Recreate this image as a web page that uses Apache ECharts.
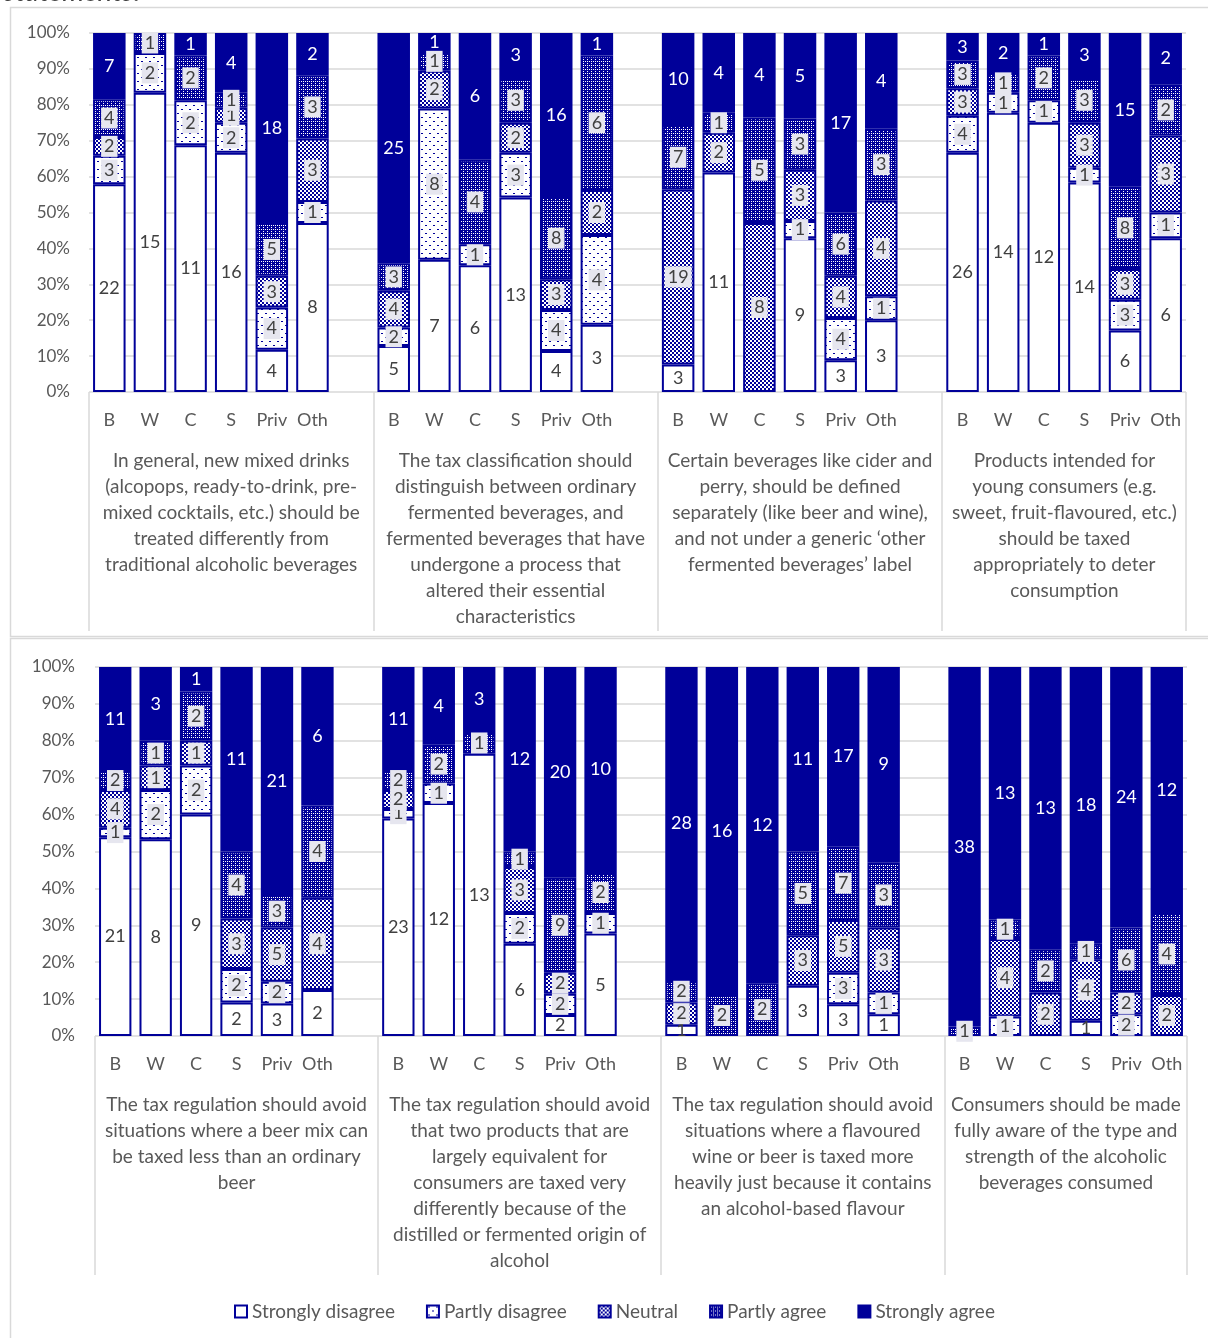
<!DOCTYPE html>
<html><head><meta charset="utf-8">
<script src="https://cdn.jsdelivr.net/npm/echarts@6/dist/echarts.min.js"></script>
<style>html,body{margin:0;padding:0;background:#fff;overflow:hidden}#c{width:1208px;height:1338px}</style>
</head><body><div id="c"></div><script>
// ---------- DATA ----------
const barLabels = ['B', 'W', 'C', 'S', 'Priv', 'Oth'];
const responses = ['Strongly disagree', 'Partly disagree', 'Neutral', 'Partly agree', 'Strongly agree'];
const topGroups = [
  'In general, new mixed drinks\n(alcopops, ready-to-drink, pre-\nmixed cocktails, etc.) should be\ntreated differently from\ntraditional alcoholic beverages',
  'The tax classification should\ndistinguish between ordinary\nfermented beverages, and\nfermented beverages that have\nundergone a process that\naltered their essential\ncharacteristics',
  'Certain beverages like cider and\nperry, should be defined\nseparately (like beer and wine),\nand not under a generic \u2018other\nfermented beverages\u2019 label',
  'Products intended for\nyoung consumers (e.g.\nsweet, fruit-flavoured, etc.)\nshould be taxed\nappropriately to deter\nconsumption'
];
const bottomGroups = [
  'The tax regulation should avoid\nsituations where a beer mix can\nbe taxed less than an ordinary\nbeer',
  'The tax regulation should avoid\nthat two products that are\nlargely equivalent for\nconsumers are taxed very\ndifferently because of the\ndistilled or fermented origin of\nalcohol',
  'The tax regulation should avoid\nsituations where a flavoured\nwine or beer is taxed more\nheavily just because it contains\nan alcohol-based flavour',
  'Consumers should be made\nfully aware of the type and\nstrength of the alcoholic\nbeverages consumed'
];
// counts, 4 groups x 6 bars (B, W, C, S, Priv, Oth)
const topStronglyDisagree = [22,15,11,16,4,8,  5,7,6,13,4,3,  3,11,0,9,3,3,  26,14,12,14,6,6];
const topPartlyDisagree   = [3,2,2,2,4,1,      2,8,1,3,4,4,   0,0,0,1,4,1,   4,1,1,1,3,1];
const topNeutral          = [2,0,0,1,3,3,      4,2,0,2,3,2,   19,2,8,3,4,4,  3,0,0,3,3,3];
const topPartlyAgree      = [4,1,2,1,5,3,      3,1,4,3,8,6,   7,1,5,3,6,3,   3,1,2,3,8,2];
const topStronglyAgree    = [7,0,1,4,18,2,     25,1,6,3,16,1, 10,4,4,5,17,4, 3,2,1,3,15,2];

const botStronglyDisagree = [21,8,9,2,3,2,  23,12,13,6,2,5,  1,0,0,3,3,1,     0,0,0,1,0,0];
const botPartlyDisagree   = [1,2,2,2,2,0,   1,1,0,2,2,1,     0,0,0,0,3,1,     0,1,0,0,2,0];
const botNeutral          = [4,1,1,3,5,4,   2,0,0,3,2,0,     2,0,0,3,5,3,     0,4,2,4,2,2];
const botPartlyAgree      = [2,1,2,4,3,4,   2,2,1,1,9,2,     2,2,2,5,7,3,     1,1,2,1,6,4];
const botStronglyAgree    = [11,3,1,11,21,6, 11,4,3,12,20,10, 28,16,12,11,17,9, 38,13,13,18,24,12];

const yTickStep = 10;

// ---------- STYLE ----------
const NAVY = '#000099';
const FONT = 'Lato, "Open Sans", sans-serif';
const GREY = '#595959';
function tile(w, h, draw) {
  const c = document.createElement('canvas'); c.width = w; c.height = h;
  const x = c.getContext('2d'); draw(x); return c;
}
const pdTile = tile(8, 8, x => { x.fillStyle = '#fff'; x.fillRect(0,0,8,8); x.fillStyle = NAVY; x.fillRect(1,1,2,1); x.fillRect(5,5,2,1); });
const nTile  = tile(4, 4, x => { x.fillStyle = '#fff'; x.fillRect(0,0,4,4); x.fillStyle = NAVY; x.fillRect(0,0,2,2); x.fillRect(2,2,2,2); });
const paTile = tile(4, 4, x => { x.fillStyle = NAVY; x.fillRect(0,0,4,4); x.fillStyle = '#fff'; x.fillRect(1,1,1,1); x.fillRect(3,3,1,1); x.fillRect(3,1,1,1); });
const fills = ['#ffffff', {image: pdTile, repeat: 'repeat'}, {image: nTile, repeat: 'repeat'}, {image: paTile, repeat: 'repeat'}, NAVY];

const lblBase = {show: true, position: 'inside', fontFamily: FONT, fontSize: 18, color: '#404040',
  formatter: p => (p.data && p.data.count) ? String(p.data.count) : ''};
const boxLbl = {backgroundColor: '#e6e6ef', padding: [2, 3, 1, 3]};
const labels = [
  Object.assign({}, lblBase),
  Object.assign({}, lblBase, boxLbl),
  Object.assign({}, lblBase, boxLbl),
  Object.assign({}, lblBase, boxLbl),
  Object.assign({}, lblBase, {color: '#ffffff'})
];

// ---------- BUILD ----------
// 27 slots: 6 bars per group, a blank slot between groups
const slotIdx = [];
const firstLevel = [];
for (let g = 0; g < 4; g++) {
  for (let b = 0; b < 6; b++) { slotIdx.push(g * 6 + b); firstLevel.push(barLabels[b]); }
  if (g < 3) { slotIdx.push(-1); firstLevel.push(''); }
}
const groupCenterSlot = [3, 10, 17, 24];
function secondLevel(groups) {
  return slotIdx.map((s, i) => {
    const g = groupCenterSlot.indexOf(i);
    if (g < 0) return '';
    return g === 3 ? '{g4|' + groups[g] + '}' : groups[g];
  });
}

function panelSeries(arrs, p) {
  const totals = arrs[0].map((_, i) => arrs.reduce((s, a) => s + a[i], 0));
  return arrs.map((arr, r) => ({
    type: 'bar', name: responses[r], stack: 'p' + p,
    xAxisIndex: p * 2, yAxisIndex: p,
    barCategoryGap: '20%',
    itemStyle: {color: fills[r], borderColor: NAVY, borderWidth: 2},
    label: labels[r],
    emphasis: {disabled: true},
    data: slotIdx.map(s => {
      if (s < 0 || arr[s] === 0) return '-';
      return {value: arr[s] / totals[s] * 100, count: arr[s]};
    })
  }));
}

function firstAxis(grid) {
  return {type: 'category', gridIndex: grid, data: firstLevel, position: 'bottom',
    axisLine: {show: false}, axisTick: {show: false},
    axisLabel: {interval: 0, margin: 18, fontFamily: FONT, fontSize: 18, color: GREY, lineHeight: 20}};
}
function secondAxis(grid, groups) {
  return {type: 'category', gridIndex: grid, data: secondLevel(groups), position: 'bottom',
    axisLine: {show: false},
    axisTick: {show: true, interval: i => i === 0 || i === 7 || i === 14 || i === 21, length: 239,
      lineStyle: {color: '#d9d9d9', width: 1.5}},
    axisLabel: {interval: 0, margin: 56, fontFamily: FONT, fontSize: 19, color: GREY, lineHeight: 26,
      align: 'center', verticalAlign: 'top', hideOverlap: false,
      rich: {g4: {fontFamily: FONT, fontSize: 19, color: GREY, lineHeight: 26, padding: [0, 40, 0, 0]}}}};
}
function yAx(grid, margin) {
  return {type: 'value', gridIndex: grid, min: 0, max: 100, interval: yTickStep,
    axisLine: {show: false}, axisTick: {show: false},
    splitLine: {lineStyle: {color: '#d9d9d9', width: 1.5}},
    axisLabel: {formatter: '{value}%', fontFamily: FONT, fontSize: 17, color: GREY, margin: margin}};
}

const option = {
  animation: false,
  backgroundColor: '#ffffff',
  grid: [
    {left: 89, top: 33, width: 1097, height: 359, containLabel: false, outerBoundsMode: 'none'},
    {left: 95, top: 667, width: 1092, height: 369, containLabel: false, outerBoundsMode: 'none'}
  ],
  xAxis: [firstAxis(0), secondAxis(0, topGroups), firstAxis(1), secondAxis(1, bottomGroups)],
  yAxis: [yAx(0, 19), yAx(1, 20)],
  legend: {
    data: responses, left: 229, top: 1297, itemWidth: 12, itemHeight: 12, itemGap: 31, itemTextGap: 4,
    icon: 'rect', textStyle: {fontFamily: FONT, fontSize: 19, color: GREY},
    itemStyle: {borderWidth: 2, borderColor: NAVY}
  },
  graphic: [
    {type: 'rect', shape: {x: 10.5, y: 7.5, width: 1210, height: 629}, style: {fill: 'none', stroke: '#d9d9d9', lineWidth: 1.5}, silent: true},
    {type: 'rect', shape: {x: 10.5, y: 638.5, width: 1210, height: 720}, style: {fill: 'none', stroke: '#d9d9d9', lineWidth: 1.5}, silent: true},
    {type: 'text', x: 4, y: 6, style: {text: 'statements:', font: 'italic 28px ' + FONT, fill: '#404040', verticalAlign: 'bottom'}, silent: true}
  ],
  series: panelSeries([topStronglyDisagree, topPartlyDisagree, topNeutral, topPartlyAgree, topStronglyAgree], 0)
    .concat(panelSeries([botStronglyDisagree, botPartlyDisagree, botNeutral, botPartlyAgree, botStronglyAgree], 1))
};
const chart = echarts.init(document.getElementById('c'), null, {renderer: 'canvas'});
chart.setOption(option);
</script></body></html>
